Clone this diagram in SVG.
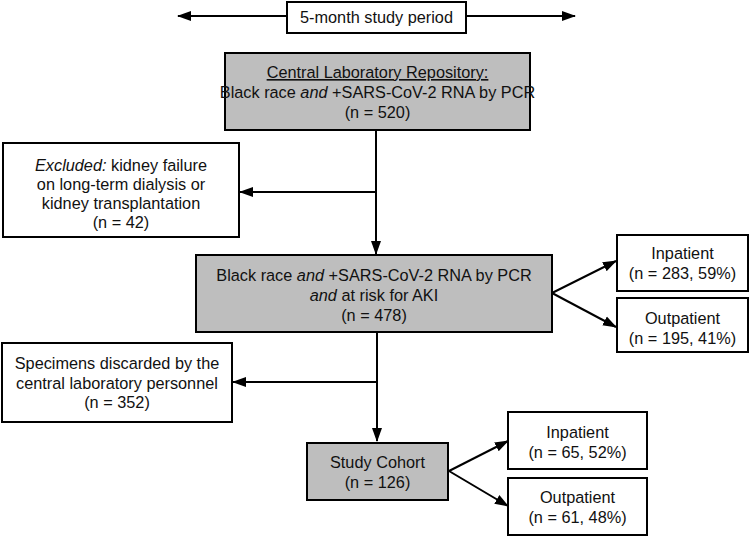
<svg xmlns="http://www.w3.org/2000/svg" width="751" height="536" viewBox="0 0 751 536">
<defs>
<marker id="ah" markerUnits="userSpaceOnUse" markerWidth="14" markerHeight="12" viewBox="0 0 14 12" refX="13" refY="6" orient="auto-start-reverse">
<path d="M0,1 L14,6 L0,11 Z" fill="#000"/>
</marker>
</defs>
<style>
.b{fill:#fff;stroke:#000;stroke-width:2}
.g{fill:#bebebe;stroke:#000;stroke-width:2}
.t{font-family:"Liberation Sans",Arial,sans-serif;font-size:16.3px;fill:#111;text-anchor:middle}
.c{fill:none;stroke:#000;stroke-width:2}
</style>
<rect width="751" height="536" fill="#fff"/>
<g id="connectors">
<line class="c" x1="287" y1="16" x2="178" y2="16" marker-end="url(#ah)"/>
<line class="c" x1="466" y1="16" x2="575" y2="16" marker-end="url(#ah)"/>
<line class="c" x1="376" y1="130" x2="376" y2="254" marker-end="url(#ah)"/>
<line class="c" x1="376" y1="192" x2="240" y2="192" marker-end="url(#ah)"/>
<line class="c" x1="377" y1="332" x2="377" y2="441" marker-end="url(#ah)"/>
<line class="c" x1="377" y1="382" x2="233" y2="382" marker-end="url(#ah)"/>
<line class="c" x1="552" y1="293" x2="616" y2="261" marker-end="url(#ah)"/>
<line class="c" x1="552" y1="293" x2="616" y2="327" marker-end="url(#ah)"/>
<line class="c" x1="449" y1="471" x2="508" y2="441" marker-end="url(#ah)"/>
<line class="c" x1="449" y1="471" x2="508" y2="506" marker-end="url(#ah)"/>
</g>
<g id="period">
<rect class="b" x="287" y="2" width="179" height="31"/>
<text class="t" x="376.5" y="23">5-month study period</text>
</g>
<g id="repository">
<rect class="g" x="225" y="53" width="305" height="77"/>
<text class="t" x="377.5" y="78" text-decoration="underline">Central Laboratory Repository:</text>
<text class="t" x="377.5" y="98">Black race <tspan font-style="italic">and</tspan> +SARS-CoV-2 RNA by PCR</text>
<text class="t" x="377.5" y="118">(n = 520)</text>
</g>
<g id="excluded">
<rect class="b" x="3" y="143" width="236" height="94"/>
<text class="t" x="121" y="171"><tspan font-style="italic">Excluded:</tspan> kidney failure</text>
<text class="t" x="121" y="190">on long-term dialysis or</text>
<text class="t" x="121" y="209">kidney transplantation</text>
<text class="t" x="121" y="228">(n = 42)</text>
</g>
<g id="atrisk">
<rect class="g" x="196" y="255" width="356" height="77"/>
<text class="t" x="374" y="281">Black race <tspan font-style="italic">and</tspan> +SARS-CoV-2 RNA by PCR</text>
<text class="t" x="374" y="301"><tspan font-style="italic">and</tspan> at risk for AKI</text>
<text class="t" x="374" y="321">(n = 478)</text>
</g>
<g id="inpatient1">
<rect class="b" x="617" y="235" width="131" height="56"/>
<text class="t" x="682.5" y="259">Inpatient</text>
<text class="t" x="682.5" y="279">(n = 283, 59%)</text>
</g>
<g id="outpatient1">
<rect class="b" x="617" y="298" width="131" height="54"/>
<text class="t" x="682.5" y="324">Outpatient</text>
<text class="t" x="682.5" y="344">(n = 195, 41%)</text>
</g>
<g id="discarded">
<rect class="b" x="2" y="343" width="230" height="79"/>
<text class="t" x="117" y="369">Specimens discarded by the</text>
<text class="t" x="117" y="389">central laboratory personnel</text>
<text class="t" x="117" y="408">(n = 352)</text>
</g>
<g id="cohort">
<rect class="g" x="307" y="443" width="141" height="57" stroke-width="4"/>
<text class="t" x="377.5" y="468">Study Cohort</text>
<text class="t" x="377.5" y="488">(n = 126)</text>
</g>
<g id="inpatient2">
<rect class="b" x="508" y="412" width="139" height="57"/>
<text class="t" x="577.5" y="438">Inpatient</text>
<text class="t" x="577.5" y="458">(n = 65, 52%)</text>
</g>
<g id="outpatient2">
<rect class="b" x="508" y="478" width="139" height="57"/>
<text class="t" x="577.5" y="503">Outpatient</text>
<text class="t" x="577.5" y="523">(n = 61, 48%)</text>
</g>
</svg>
